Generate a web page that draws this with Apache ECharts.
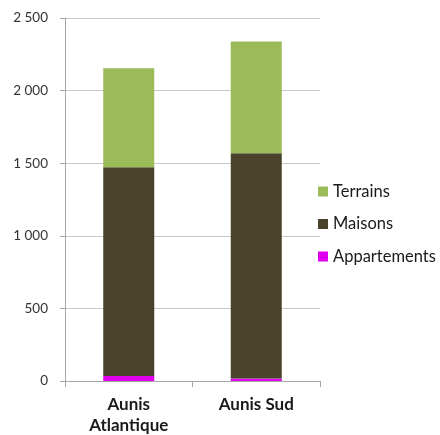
<!DOCTYPE html>
<html><head><meta charset="utf-8">
<script src="https://cdn.jsdelivr.net/npm/echarts@6/dist/echarts.min.js"></script>
<style>html,body{margin:0;padding:0;background:#fff}#c{width:440px;height:435px}</style>
</head><body><div id="c"></div>
<script>
var categories = ['Aunis\nAtlantique', 'Aunis Sud'];
var appartements = [35, 18];
var maisons = [1437, 1550];
var terrains = [682, 770];
var yTicks = [0, 500, 1000, 1500, 2000, 2500];

var chart = echarts.init(document.getElementById('c'));
var font = 'Lato, "Open Sans", sans-serif';
function fmt(v){ return String(v).replace(/\B(?=(\d{3})+(?!\d))/g, ' '); }
chart.setOption({
  animation: false,
  textStyle: {fontFamily: font},
  grid: {left: 65, right: 120, top: 18, bottom: 54, containLabel: false, outerBoundsMode: 'none'},
  legend: {
    orient: 'vertical', left: 313, top: 177, itemWidth: 10, itemHeight: 10, itemGap: 13.5,
    data: ['Terrains', 'Maisons', 'Appartements'],
    textStyle: {fontFamily: font, fontSize: 16.5, color: '#1a1a1a', lineHeight: 19}, icon: 'rect'
  },
  xAxis: {
    type: 'category', data: categories,
    axisLine: {lineStyle: {color: '#a6a6a6'}},
    axisTick: {show: true, length: 6, alignWithLabel: false, lineStyle: {color: '#a6a6a6'}},
    axisLabel: {fontFamily: font, fontSize: 17, fontWeight: 'bold', color: '#1a1a1a', margin: 13, lineHeight: 21}
  },
  yAxis: {
    type: 'value', min: yTicks[0], max: yTicks[yTicks.length-1], interval: 500,
    axisLine: {show: true, lineStyle: {color: '#a6a6a6'}},
    axisTick: {show: true, length: 5, lineStyle: {color: '#a6a6a6'}},
    splitLine: {lineStyle: {color: '#c8c8c8'}},
    axisLabel: {fontFamily: font, fontSize: 13.5, color: '#333', margin: 17, formatter: fmt}
  },
  series: [
    {name: 'Appartements', type: 'bar', stack: 's', data: appartements, barWidth: 51, itemStyle: {color: '#e000f0'}},
    {name: 'Maisons', type: 'bar', stack: 's', data: maisons, barWidth: 51, itemStyle: {color: '#4a432b'}},
    {name: 'Terrains', type: 'bar', stack: 's', data: terrains, barWidth: 51, itemStyle: {color: '#9bbb59'}}
  ]
});
</script></body></html>
